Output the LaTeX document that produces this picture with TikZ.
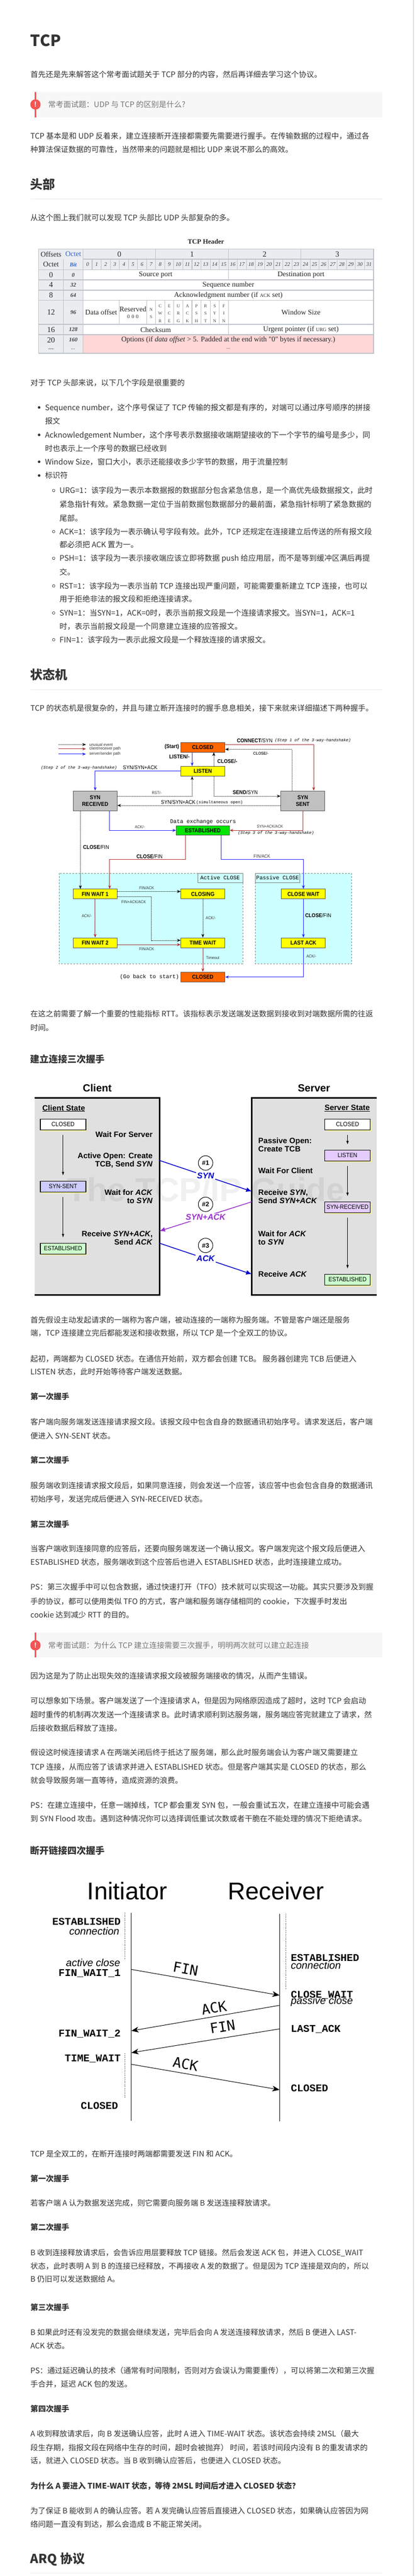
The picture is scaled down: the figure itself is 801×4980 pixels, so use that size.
\documentclass[tikz,border=0pt]{standalone}
\usepackage{fontspec}
\usetikzlibrary{arrows.meta,shadows}
\newfontfamily\cjk{Noto Sans CJK SC}
\newfontfamily\lsans{Liberation Sans}
\newfontfamily\nsans{Liberation Sans}[FakeStretch=0.9]
\newfontfamily\lserif{Liberation Serif}
\newfontfamily\lmono{Liberation Mono}
\newfontfamily\dmono{DejaVu Sans Mono}
\newcommand\setfs[2]{\fontsize{#1}{#2}\selectfont}
\definecolor{fg}{RGB}{51,51,51}
\definecolor{note}{RGB}{119,119,119}
\definecolor{alert}{RGB}{245,84,84}
\definecolor{notebg}{RGB}{247,247,247}
\definecolor{rulec}{RGB}{234,234,234}
\definecolor{wphead}{RGB}{234,236,240}
\definecolor{wpgrid}{RGB}{190,195,201}
\definecolor{wplink}{RGB}{51,102,204}
\definecolor{optbg}{RGB}{255,215,215}
\definecolor{smred}{RGB}{178,48,48}
\definecolor{smblue}{RGB}{34,34,255}
\definecolor{smorange}{RGB}{255,102,0}
\definecolor{smyellow}{RGB}{255,255,0}
\definecolor{smgray}{RGB}{192,192,192}
\definecolor{smgreen}{RGB}{0,230,0}
\definecolor{smcyan}{RGB}{204,255,255}
\definecolor{hspanel}{RGB}{224,224,224}
\definecolor{hsblue}{RGB}{0,0,204}
\definecolor{hspurple}{RGB}{153,51,204}
\definecolor{hsviolet}{RGB}{228,204,255}
\definecolor{hslav}{RGB}{204,204,255}
\definecolor{hsgreen}{RGB}{204,255,204}
\tikzset{
  txt/.style={anchor=base west,inner sep=0,text=fg,font=\cjk\setfs{14.7}{26},yshift=-5.5pt},
  hone/.style={anchor=base west,inner sep=0,text=fg,font=\cjk\bfseries\setfs{30}{36},yshift=-12pt},
  htwo/.style={anchor=base west,inner sep=0,text=fg,font=\cjk\bfseries\setfs{24}{30},yshift=-9.5pt},
  hthree/.style={anchor=base west,inner sep=0,text=fg,font=\cjk\bfseries\setfs{18}{22},yshift=-6.8pt},
  hfour/.style={anchor=base west,inner sep=0,text=fg,font=\cjk\bfseries\setfs{15}{20},yshift=-5.6pt},
  hrule/.style={rulec,line width=1pt},
  dot/.style={circle,fill=fg,inner sep=0,minimum size=5pt},
  ring/.style={circle,draw=fg,line width=0.7pt,inner sep=0,minimum size=5pt},
  warn/.style={circle,fill=alert,inner sep=0,minimum size=20pt,text=white,font=\lsans\bfseries\setfs{14}{14}},
  tb/.style={inner sep=0,text=black!85,font=\lserif\setfs{14}{16}},
  tbit/.style={inner sep=0,text=black!75,font=\lserif\itshape\setfs{10.5}{12}},
  flag/.style={inner sep=0,text=black!75,align=center,font=\lserif\setfs{8.5}{14.3}},
  grid/.style={wpgrid,line width=1.1pt},
  smbox/.style={draw=black!65,line width=1pt,minimum width=85pt,minimum height=19pt,inner sep=0,align=center,font=\nsans\bfseries\setfs{11}{13.4}},
  smlab/.style={inner sep=0,text=black!80,font=\nsans\setfs{8}{9}},
  smlb/.style={inner sep=0,font=\nsans\setfs{10.5}{12}},
  smnote/.style={inner sep=0,font=\lmono\itshape\setfs{7.9}{9}},
  smmono/.style={inner sep=0,font=\lmono\setfs{10.6}{12}},
  redp/.style={smred,line width=1pt,-{Stealth[length=7pt,width=5.5pt]}},
  bluep/.style={smblue,line width=1pt,-{Stealth[length=7pt,width=5.5pt]}},
  dotp/.style={black,line width=0.7pt,dash pattern=on 0.8pt off 1.2pt,-{Stealth[length=7pt,width=5.5pt]}},
  hsbox/.style={draw,line width=1.5pt,minimum width=88pt,minimum height=21pt,inner sep=0,font=\nsans\setfs{12}{14},drop shadow={shadow xshift=2.5pt,shadow yshift=-2.5pt,fill=yellow!45!white,opacity=0.8}},
  hstxt/.style={inner sep=0,font=\lsans\bfseries\setfs{15}{16}},
  hsnum/.style={circle,draw,line width=1pt,fill=white,minimum size=28pt,inner sep=0,font=\lsans\bfseries\setfs{12.5}{14}},
  hslab/.style={fill=white,inner sep=2pt,font=\lsans\bfseries\itshape\setfs{16}{16}},
  hsmsg/.style={line width=1.5pt,-{Latex[length=11pt,width=9pt]}},
  hsdown/.style={line width=1pt,-{Latex[length=7pt,width=5pt]}},
  fwst/.style={inner sep=0,font=\lmono\bfseries\setfs{20}{20}},
  fwit/.style={inner sep=0,font=\lsans\itshape\setfs{20}{20}},
  fwlab/.style={inner sep=0,font=\dmono\setfs{27}{27}},
  fwmsg/.style={line width=1pt,-{Stealth[length=14pt,width=11pt,inset=4pt]}},
  fwdot/.style={line width=1pt,dash pattern=on 1pt off 2.5pt}
}
\begin{document}
\begin{tikzpicture}[x=1pt,y=-1pt]
\useasboundingbox[fill=white] (0,0) rectangle (801,4980);
\draw[gray!25,line width=1.5pt] (798.8,0) -- (798.8,4980);

\node[hone] (h1) at (58.7,78) {TCP};
\node[txt] (t1) at (58.7,144) {首先还是先来解答这个常考面试题关于 TCP 部分的内容，然后再详细去学习这个协议。};
\fill[notebg] (67,178) rectangle (739,227);
\fill[alert] (67,178) rectangle (70,227);
\node[warn] (w1) at (68.5,202) {!};
\node[txt,text=note] (q1) at (93,202) {常考面试题：UDP 与 TCP 的区别是什么?};
\node[txt] (t2) at (58.7,263) {TCP 基本是和 UDP 反着来，建立连接断开连接都需要先需要进行握手。在传输数据的过程中，通过各};
\node[txt] (t3) at (58.7,289) {种算法保证数据的可靠性，当然带来的问题就是相比 UDP 来说不那么的高效。};
\node[htwo] (h2) at (58.7,356) {头部};
\draw[hrule] (58.7,384) -- (739,384);
\node[txt] (t4) at (58.7,421) {从这个图上我们就可以发现 TCP 头部比 UDP 头部复杂的多。};

\node[tb,font=\lserif\bfseries\setfs{13}{15}] (tth) at (398,467) {TCP Header};
\fill[wphead] (74.6,481.7) rectangle (722,521.7);
\fill[wphead] (74.6,521.7) rectangle (160.4,683);
\fill[optbg] (160.4,647) rectangle (722,683);
\draw[grid] (74.6,481.7) rectangle (722,683);
\foreach \y in {521.7,541,561,580.7,627,647} \draw[grid] (74.6,\y) -- (722,\y);
\draw[grid] (160.4,501) -- (722,501);
\draw[grid] (122.6,501) -- (122.6,683);
\draw[grid] (160.4,481.7) -- (160.4,683);
\foreach \k in {1,2,3} \draw[grid] ({160.4+8*\k*17.55},481.7) -- ({160.4+8*\k*17.55},501);
\foreach \k in {1,...,31} \draw[grid] ({160.4+\k*17.55},501) -- ({160.4+\k*17.55},521.7);
\draw[grid] (441.2,521.7) -- (441.2,541);
\draw[grid] (441.2,627) -- (441.2,647);
\foreach \k in {4,7,8,9,10,11,12,13,14,15,16} \draw[grid] ({160.4+\k*17.55},580.7) -- ({160.4+\k*17.55},627);
\node[tb] (toff) at (98.6,491.4) {Offsets};
\node[tb,text=wplink] (toct) at (141.5,491.4) {Octet};
\node[tb] (toct2) at (98.6,511.3) {Octet};
\node[tb,text=wplink,font=\lserif\bfseries\itshape\setfs{11}{12}] (tbit) at (141.5,511.3) {Bit};
\foreach \k in {0,...,3} \node[tb,font=\lserif\setfs{15}{16}] (by\k) at ({160.4+(8*\k+4)*17.55},491.4) {\k};
\foreach \k in {0,...,31} \node[tbit] (bn\k) at ({160.4+(\k+0.5)*17.55},511.3) {\k};
\foreach \o/\b/\y [count=\r] in {0/0/531.4,4/32/551,8/64/571,12/96/604,16/128/637.3,20/160/657.3} {
  \node[tb,font=\lserif\setfs{15}{16}] (ro\r) at (98.6,\y) {\o};
  \node[tbit,font=\lserif\bfseries\itshape\setfs{11}{12}] (rb\r) at (141.5,\y) {\b};
}
\node[tb] (rodots) at (98.6,675) {...};
\node[tbit] (rbdots) at (141.5,675) {...};
\node[tb] (fsrc) at (300.8,531.4) {Source port};
\node[tb] (fdst) at (581.6,531.4) {Destination port};
\node[tb] (fseq) at (441.2,551) {Sequence number};
\node[tb] (fack) at (441.2,571) {Acknowledgment number (if {\setfs{9.5}{10}ACK} set)};
\node[tb] (fdo) at (195.5,604) {Data offset};
\node[tb] (frs) at (256.8,597.7) {Reserved};
\node[tb,font=\lserif\setfs{10}{12}] (frs0) at (256.8,612.7) {0\,\,0\,\,0};
\node[flag] (fns) at (292,605.5) {N\\S};
\foreach \a/\b/\c [count=\k from 8] in {C/W/R,E/C/E,U/R/G,A/C/K,P/S/H,R/S/T,S/Y/N,F/I/N}
  \node[flag] (fl\k) at ({160.4+(\k+0.5)*17.55},606) {\a\\\b\\\c};
\node[tb] (fwin) at (581.6,604) {Window Size};
\node[tb] (fchk) at (300.8,637.3) {Checksum};
\node[tb] (furg) at (581.6,637.3) {Urgent pointer (if {\setfs{9.5}{10}URG} set)};
\node[tb] (fopt) at (441.2,657.3) {Options (if \textit{data offset} > 5. Padded at the end with "0" bytes if necessary.)};
\node[tb,font=\lserif\setfs{9}{10}] (foptd) at (441.2,674) {...};

\node[txt] (t5) at (58.7,740) {对于 TCP 头部来说，以下几个字段是很重要的};
\node[dot] (d1) at (75.6,787.7) {};
\node[txt] (b1) at (86.8,787.7) {Sequence number，这个序号保证了 TCP 传输的报文都是有序的，对端可以通过序号顺序的拼接};
\node[txt] (b1b) at (86.8,814) {报文};
\node[dot] (d2) at (75.6,840.7) {};
\node[txt] (b2) at (86.8,840.7) {Acknowledgement Number，这个序号表示数据接收端期望接收的下一个字节的编号是多少，同};
\node[txt] (b2b) at (86.8,866.7) {时也表示上一个序号的数据已经收到};
\node[dot] (d3) at (75.6,892.7) {};
\node[txt] (b3) at (86.8,892.7) {Window Size，窗口大小，表示还能接收多少字节的数据，用于流量控制};
\node[dot] (d4) at (75.6,919.3) {};
\node[txt] (b4) at (86.8,919.3) {标识符};
\node[ring] (r1) at (103.7,948.3) {};
\node[txt] (s1) at (115,948.3) {URG=1：该字段为一表示本数据报的数据部分包含紧急信息，是一个高优先级数据报文，此时};
\node[txt] (s1b) at (115,975) {紧急指针有效。紧急数据一定位于当前数据包数据部分的最前面，紧急指针标明了紧急数据的};
\node[txt] (s1c) at (115,1001.7) {尾部。};
\node[ring] (r2) at (103.7,1027.7) {};
\node[txt] (s2) at (115,1027.7) {ACK=1：该字段为一表示确认号字段有效。此外，TCP 还规定在连接建立后传送的所有报文段};
\node[txt] (s2b) at (115,1053.3) {都必须把 ACK 置为一。};
\node[ring] (r3) at (103.7,1079.3) {};
\node[txt] (s3) at (115,1079.3) {PSH=1：该字段为一表示接收端应该立即将数据 push 给应用层，而不是等到缓冲区满后再提};
\node[txt] (s3b) at (115,1106) {交。};
\node[ring] (r4) at (103.7,1132.7) {};
\node[txt] (s4) at (115,1132.7) {RST=1：该字段为一表示当前 TCP 连接出现严重问题，可能需要重新建立 TCP 连接，也可以};
\node[txt] (s4b) at (115,1158.3) {用于拒绝非法的报文段和拒绝连接请求。};
\node[ring] (r5) at (103.7,1185) {};
\node[txt] (s5) at (115,1185) {SYN=1：当SYN=1，ACK=0时，表示当前报文段是一个连接请求报文。当SYN=1，ACK=1};
\node[txt] (s5b) at (115,1210.7) {时，表示当前报文段是一个同意建立连接的应答报文。};
\node[ring] (r6) at (103.7,1236.7) {};
\node[txt] (s6) at (115,1236.7) {FIN=1：该字段为一表示此报文段是一个释放连接的请求报文。};

\node[htwo] (h3) at (58.7,1304.3) {状态机};
\draw[hrule] (58.7,1333) -- (739,1333);
\node[txt] (t6) at (58.7,1369.4) {TCP 的状态机是很复杂的，并且与建立断开连接时的握手息息相关，接下来就来详细描述下两种握手。};

\draw[dashed,gray,fill=smcyan] (113.9,1687.8) rectangle (468.8,1863.3);
\draw[dashed,gray,fill=smcyan] (493.4,1687.8) rectangle (679.3,1863.3);
\node[draw=gray,fill=smcyan,minimum width=86.8pt,minimum height=18.4pt,inner sep=0,font=\lmono\setfs{10.6}{12}] (actc) at (425.4,1697) {Active CLOSE};
\node[draw=gray,fill=smcyan,minimum width=86.3pt,minimum height=18.4pt,inner sep=0,font=\lmono\setfs{10.6}{12}] (pasc) at (536.5,1697) {Passive CLOSE};
\coordinate (lg1) at (113,1439.4);
\coordinate (lg2) at (166,1439.4);
\coordinate (lg3) at (113,1447.8);
\coordinate (lg4) at (166,1447.8);
\coordinate (lg5) at (113,1457.8);
\coordinate (lg6) at (166,1457.8);
\draw[dotp] (lg1) -- (lg2);
\draw[redp] (lg3) -- (lg4);
\draw[bluep] (lg5) -- (lg6);
\node[smlab,anchor=west] (lgt1) at (172.6,1439.4) {unusual event};
\node[smlab,anchor=west] (lgt2) at (172.6,1447.8) {client/receiver path};
\node[smlab,anchor=west] (lgt3) at (172.6,1457.8) {server/sender path};
\node[smbox,fill=smorange,minimum width=85.3pt,minimum height=18.8pt] (closedA) at (392,1444.6) {CLOSED};
\node[smbox,fill=smyellow,minimum width=85.3pt,minimum height=18.8pt] (listen) at (392,1490.9) {LISTEN};
\node[smbox,fill=smgray,minimum height=38.2pt] (synrcvd) at (183.9,1548.1) {SYN\\RECEIVED};
\node[smbox,fill=smgray,minimum height=38.2pt] (synsent) at (585,1548.1) {SYN\\SENT};
\node[smbox,fill=smgreen,minimum width=102.6pt,minimum height=18pt] (estab) at (392,1605.3) {ESTABLISHED};
\node[smbox,fill=smyellow] (finw1) at (183.9,1728.4) {FIN WAIT 1};
\node[smbox,fill=smyellow] (closing) at (392,1728.4) {CLOSING};
\node[smbox,fill=smyellow] (closewait) at (586.3,1728.4) {CLOSE WAIT};
\node[smbox,fill=smyellow] (finw2) at (183.9,1822.5) {FIN WAIT 2};
\node[smbox,fill=smyellow] (timewait) at (392,1822.5) {TIME WAIT};
\node[smbox,fill=smyellow] (lastack) at (586.3,1822.5) {LAST ACK};
\node[smbox,fill=smorange,minimum width=85.3pt] (closedB) at (392,1888.8) {CLOSED};
\draw[redp] ([yshift=5.6pt]closedA.east) -| ([xshift=21.2pt]synsent.north);
\draw[dotp] ([xshift=-20.7pt]synsent.north) |- ([yshift=-4pt]closedA.east);
\draw[bluep] ([xshift=-20.7pt]closedA.south) -- ([xshift=-20.7pt]listen.north);
\draw[dotp] ([xshift=21.2pt]listen.north) -- ([xshift=21.2pt]closedA.south);
\draw[bluep] (listen.west) -| (synrcvd.north);
\draw[dotp] ([yshift=9pt]synrcvd.east) -| ([xshift=-20.7pt]listen.south);
\draw[dotp] ([xshift=21.2pt]listen.south) |- ([yshift=9pt]synsent.west);
\draw[dotp] ([yshift=-9pt]synsent.west) -- ([yshift=-9pt]synrcvd.east);
\draw[bluep] ([xshift=27.5pt]synrcvd.south) |- (estab.west);
\draw[redp] (synsent.south) |- (estab.east);
\draw[dotp] ([xshift=-28.6pt]synrcvd.south) -- ([xshift=-28.6pt]finw1.north);
\draw[redp] ([xshift=-34pt]estab.south) -- ++(0,46.7) -| ([xshift=28pt]finw1.north);
\draw[bluep] ([xshift=35pt]estab.south) -- ++(0,46.7) -| (closewait.north);
\draw[dotp] ([yshift=5pt]finw1.east) -- ([yshift=5pt]closing.west);
\draw[dotp] ([yshift=-5pt]finw1.east) -- ++(65.8,0) |- ([yshift=4.6pt]timewait.west);
\draw[redp] (finw1.south) -- (finw2.north);
\draw[dotp] (closing.south) -- (timewait.north);
\draw[bluep] (closewait.south) -- (lastack.north);
\draw[redp] ([yshift=-3.7pt]finw2.east) -- ([yshift=-3.7pt]timewait.west);
\draw[redp] (timewait.south) -- (closedB.north);
\draw[bluep] (lastack.south) |- (closedB.east);
\node[smlb,anchor=east,font=\nsans\bfseries\setfs{10.5}{12}] (lstart) at (346.3,1444) {(Start)};
\node[smlb,anchor=west] (lconn) at (457.6,1431.4) {\textbf{CONNECT}/SYN};
\node[smnote,anchor=west] (lstep1) at (531,1431.4) {(Step 1 of the 3-way-handshake)};
\node[smlab] (lclose1) at (504,1456.6) {\textbf{CLOSE/-}};
\node[smlb,anchor=east] (llisten) at (366.7,1462.8) {\textbf{LISTEN/-}};
\node[smlb,anchor=west] (lclose2) at (420,1471.6) {\textbf{CLOSE/-}};
\node[smnote,anchor=west] (lstep2) at (79,1484.2) {(Step 2 of the 3-way-handshake)};
\node[smlb,anchor=west] (lsynack) at (237.5,1484.2) {SYN/SYN+ACK};
\node[smlab] (lrst) at (302.9,1532.4) {RST/-};
\node[smlb] (lsend) at (474,1531.6) {\textbf{SEND}/SYN};
\node[smlb,anchor=west] (lsim) at (311,1551.2) {SYN/SYN+ACK};
\node[inner sep=0,font=\lmono\setfs{7.9}{9},anchor=west] (lsim2) at (379,1551.2) {(simultaneous open)};
\node[smmono] (ldata) at (392.4,1588.3) {Data exchange occurs};
\node[smlab] (lack1) at (270.2,1598.2) {ACK/-};
\node[smlab] (lsa) at (521.7,1597.8) {SYN+ACK/ACK};
\node[smnote,anchor=west] (lstep3) at (459.7,1610.9) {(Step 3 of the 3-way-handshake)};
\node[smlb] (lcf1) at (185.7,1637.6) {\textbf{CLOSE}/FIN};
\node[smlb] (lcf2) at (289,1655.6) {\textbf{CLOSE}/FIN};
\node[smlab,font=\nsans\setfs{9}{10}] (lfa1) at (506.2,1654.9) {FIN/ACK};
\node[smlab] (lfa2) at (283.4,1716.5) {FIN/ACK};
\node[smlab] (lfaa) at (258.4,1743.7) {FIN+ACK/ACK};
\node[smlab] (lack2) at (167.7,1770.8) {ACK/-};
\node[smlab] (lack3) at (407.3,1774.7) {ACK/-};
\node[smlb] (lcf3) at (615,1770) {\textbf{CLOSE}/FIN};
\node[smlab] (lfa3) at (283.4,1835) {FIN/ACK};
\node[smlab] (ltime) at (411,1851.7) {Timeout};
\node[smlab] (lack4) at (601.6,1848.3) {ACK/-};
\node[smmono,anchor=east] (lgoback) at (346.3,1889) {(Go back to start)};

\node[txt] (t7) at (58.7,1960) {在这之前需要了解一个重要的性能指标 RTT。该指标表示发送端发送数据到接收到对端数据所需的往返};
\node[txt] (t7b) at (58.7,1986.7) {时间。};
\node[hthree] (h4) at (58.7,2047.7) {建立连接三次握手};

\node[hstxt,font=\lsans\bfseries\setfs{20}{22}] (cli) at (188,2103.3) {Client};
\node[hstxt,font=\lsans\bfseries\setfs{20}{22}] (srv) at (606.7,2103.3) {Server};
\fill[hspanel] (66.9,2122.7) rectangle (308,2503.3);
\fill[hspanel] (486.7,2122.7) rectangle (727.8,2503.3);
\draw[line width=3pt] (66.9,2122.7) -- (308,2122.7) -- (308,2503.3) -- (66.9,2503.3);
\draw[line width=3pt] (727.8,2122.7) -- (486.7,2122.7) -- (486.7,2503.3) -- (727.8,2503.3);
\node[inner sep=0,text=black,opacity=0.06,font=\lsans\bfseries\setfs{64}{64}] (wm) at (398,2300) {The TCP/IP Guide};
\node[hstxt,anchor=west] (cst) at (81.7,2142.7) {\underline{Client State}};
\node[hstxt,anchor=east] (sst) at (715,2142.7) {\underline{Server State}};
\node[hsbox,fill=white] (cclosed) at (121.8,2173.8) {CLOSED};
\node[hsbox,fill=hslav] (csynsent) at (121.8,2293.8) {SYN-SENT};
\node[hsbox,fill=hsgreen] (cestab) at (121.8,2413.8) {ESTABLISHED};
\node[hsbox,fill=white] (sclosed) at (671.6,2173.8) {CLOSED};
\node[hsbox,fill=hsviolet] (slisten) at (671.6,2233.8) {LISTEN};
\node[hsbox,fill=hsviolet] (ssynrcvd) at (671.6,2333.8) {SYN-RECEIVED};
\node[hsbox,fill=hsgreen] (sestab) at (671.6,2473.8) {ESTABLISHED};
\draw[hsdown] ([yshift=-9pt]cclosed.south) -- ([yshift=10pt]csynsent.north);
\draw[hsdown] ([yshift=-9pt]csynsent.south) -- ([yshift=10pt]cestab.north);
\draw[hsdown] ([yshift=-9pt]sclosed.south) -- ([yshift=10pt]slisten.north);
\draw[hsdown] ([yshift=-9pt]slisten.south) -- ([yshift=10pt]ssynrcvd.north);
\draw[hsdown] ([yshift=-9pt]ssynrcvd.south) -- ([yshift=10pt]sestab.north);
\node[hstxt,anchor=east,align=right] (cw1) at (295.2,2193.3) {Wait For Server};
\node[hstxt,anchor=east,align=right] (cw2) at (295.2,2243) {Active Open: Create\\TCB, Send \textit{SYN}};
\node[hstxt,anchor=east,align=right] (cw3) at (295.2,2313) {Wait for \textit{ACK}\\to \textit{SYN}};
\node[hstxt,anchor=east,align=right] (cw4) at (295.2,2392.8) {Receive \textit{SYN+ACK},\\Send \textit{ACK}};
\node[hstxt,anchor=west,align=left] (sw1) at (499,2213) {Passive Open:\\Create TCB};
\node[hstxt,anchor=west] (sw2) at (499,2262.7) {Wait For Client};
\node[hstxt,anchor=west,align=left] (sw3) at (499,2313) {Receive \textit{SYN},\\Send \textit{SYN+ACK}};
\node[hstxt,anchor=west,align=left] (sw4) at (499,2392.8) {Wait for \textit{ACK}\\to \textit{SYN}};
\node[hstxt,anchor=west] (sw5) at (499,2462.7) {Receive \textit{ACK}};
\coordinate (pa1) at (308,2243.3);
\coordinate (pb1) at (486.7,2303.3);
\coordinate (pa2) at (486.7,2323.3);
\coordinate (pb2) at (308,2380);
\coordinate (pa3) at (308,2403.3);
\coordinate (pb3) at (486.7,2463.3);
\draw[hsmsg,hsblue] (pa1) -- (pb1);
\draw[hsmsg,hspurple] (pa2) -- (pb2);
\draw[hsmsg,hsblue] (pa3) -- (pb3);
\node[hsnum] (n1) at (397.3,2248.3) {\#1};
\node[hsnum] (n2) at (397.3,2328.3) {\#2};
\node[hsnum] (n3) at (397.3,2407.7) {\#3};
\node[hslab,text=hsblue] (m1) at (397.3,2272.7) {SYN};
\node[hslab,text=hspurple] (m2) at (397.3,2353.3) {SYN+ACK};
\node[hslab,text=hsblue] (m3) at (397.3,2433.3) {ACK};

\node[txt] (t8) at (58.7,2551.7) {首先假设主动发起请求的一端称为客户端，被动连接的一端称为服务端。不管是客户端还是服务};
\node[txt] (t8b) at (58.7,2577.3) {端，TCP 连接建立完后都能发送和接收数据，所以 TCP 是一个全双工的协议。};
\node[txt] (t9) at (58.7,2626.7) {起初，两端都为 CLOSED 状态。在通信开始前，双方都会创建 TCB。 服务器创建完 TCB 后便进入};
\node[txt] (t9b) at (58.7,2652.3) {LISTEN 状态，此时开始等待客户端发送数据。};
\node[hfour] (h5) at (58.7,2700) {第一次握手};
\node[txt] (t10) at (58.7,2749) {客户端向服务端发送连接请求报文段。该报文段中包含自身的数据通讯初始序号。请求发送后，客户端};
\node[txt] (t10b) at (58.7,2775.7) {便进入 SYN-SENT 状态。};
\node[hfour] (h6) at (58.7,2823.3) {第二次握手};
\node[txt] (t11) at (58.7,2871.7) {服务端收到连接请求报文段后，如果同意连接，则会发送一个应答，该应答中也会包含自身的数据通讯};
\node[txt] (t11b) at (58.7,2898.3) {初始序号，发送完成后便进入 SYN-RECEIVED 状态。};
\node[hfour] (h7) at (58.7,2946.7) {第三次握手};
\node[txt] (t12) at (58.7,2994.3) {当客户端收到连接同意的应答后，还要向服务端发送一个确认报文。客户端发完这个报文段后便进入};
\node[txt] (t12b) at (58.7,3020) {ESTABLISHED 状态，服务端收到这个应答后也进入 ESTABLISHED 状态，此时连接建立成功。};
\node[txt] (t13) at (58.7,3068.3) {PS：第三次握手中可以包含数据，通过快速打开（TFO）技术就可以实现这一功能。其实只要涉及到握};
\node[txt] (t13b) at (58.7,3095.7) {手的协议，都可以使用类似 TFO 的方式，客户端和服务端存储相同的 cookie，下次握手时发出};
\node[txt] (t13c) at (58.7,3121.7) {cookie 达到减少 RTT 的目的。};
\fill[notebg] (67,3156) rectangle (739,3204);
\fill[alert] (67,3156) rectangle (70,3204);
\node[warn] (w2) at (68.5,3180.7) {!};
\node[txt,text=note] (q2) at (93,3180.7) {常考面试题：为什么 TCP 建立连接需要三次握手，明明两次就可以建立起连接};
\node[txt] (t14) at (58.7,3240) {因为这是为了防止出现失效的连接请求报文段被服务端接收的情况，从而产生错误。};
\node[txt] (t15) at (58.7,3288.3) {可以想象如下场景。客户端发送了一个连接请求 A，但是因为网络原因造成了超时，这时 TCP 会启动};
\node[txt] (t15b) at (58.7,3315) {超时重传的机制再次发送一个连接请求 B。此时请求顺利到达服务端，服务端应答完就建立了请求，然};
\node[txt] (t15c) at (58.7,3340.7) {后接收数据后释放了连接。};
\node[txt] (t16) at (58.7,3388.3) {假设这时候连接请求 A 在两端关闭后终于抵达了服务端，那么此时服务端会认为客户端又需要建立};
\node[txt] (t16b) at (58.7,3415.7) {TCP 连接，从而应答了该请求并进入 ESTABLISHED 状态。但是客户端其实是 CLOSED 的状态，那么};
\node[txt] (t16c) at (58.7,3441.7) {就会导致服务端一直等待，造成资源的浪费。};
\node[txt] (t17) at (58.7,3490) {PS：在建立连接中，任意一端掉线，TCP 都会重发 SYN 包，一般会重试五次，在建立连接中可能会遇};
\node[txt] (t17b) at (58.7,3515.7) {到 SYN Flood 攻击。遇到这种情况你可以选择调低重试次数或者干脆在不能处理的情况下拒绝请求。};
\node[hthree] (h8) at (58.7,3577.7) {断开链接四次握手};

\node[inner sep=0,anchor=base,font=\lsans\setfs{47}{47}] (ini) at (246,3672) {Initiator};
\node[inner sep=0,anchor=base,font=\lsans\setfs{47}{47}] (rcv) at (533.2,3672) {Receiver};
\coordinate (ia) at (253.8,3698.3);
\coordinate (ib) at (253.8,4100);
\coordinate (ra) at (540.3,3700);
\coordinate (rb) at (540.3,4100.7);
\draw[line width=1pt] (ia) -- (ib);
\draw[line width=1pt] (ra) -- (rb);
\coordinate (ld1) at (241.6,3698.3);
\coordinate (ld2) at (241.6,3788.3);
\coordinate (ld3) at (241.6,3970);
\coordinate (ld4) at (241.6,4055);
\coordinate (rd1) at (552.6,3700);
\coordinate (rd2) at (552.6,3845);
\draw[fwdot] (ld1) -- (ld2);
\draw[fwdot] (ld3) -- (ld4);
\draw[fwdot] (rd1) -- (rd2);
\coordinate (f1a) at (253.8,3807.3);
\coordinate (f1b) at (540.3,3857.3);
\coordinate (k1a) at (540.3,3876.7);
\coordinate (k1b) at (253.8,3926);
\coordinate (f2a) at (540.3,3922.3);
\coordinate (f2b) at (253.8,3968.3);
\coordinate (k2a) at (253.8,3990.7);
\coordinate (k2b) at (540.3,4040);
\draw[fwmsg] (f1a) -- (f1b);
\draw[fwmsg] (k1a) -- (k1b);
\draw[fwmsg] (f2a) -- (f2b);
\draw[fwmsg] (k2a) -- (k2b);
\node[fwlab,rotate=-10] (lf1) at (358.5,3806) {FIN};
\node[fwlab,rotate=10] (lk1) at (413.7,3881.7) {ACK};
\node[fwlab,rotate=9] (lf2) at (430,3918) {FIN};
\node[fwlab,rotate=-10] (lk2) at (358.5,3990) {ACK};
\node[fwst,anchor=base east] (le1) at (233.4,3721.6) {ESTABLISHED};
\node[fwit,anchor=base east] (le2) at (230.8,3740) {connection};
\node[fwit,anchor=base east] (lac) at (232.4,3801.5) {active close};
\node[fwst,anchor=base east] (lw1) at (233.4,3820) {FIN\_WAIT\_1};
\node[fwst,anchor=base east] (lw2) at (233.4,3937.7) {FIN\_WAIT\_2};
\node[fwst,anchor=base east] (ltw) at (233.4,3985) {TIME\_WAIT};
\node[fwst,anchor=base east] (lcl) at (228.3,4077.5) {CLOSED};
\node[fwst,anchor=base west] (re1) at (561.8,3791) {ESTABLISHED};
\node[fwit,anchor=base west] (re2) at (561.8,3806.5) {connection};
\node[fwst,anchor=base west] (rcw) at (561.8,3862.5) {CLOSE\_WAIT};
\node[fwit,anchor=base west] (rpc) at (561.8,3874) {passive close};
\node[fwst,anchor=base west] (rla) at (561.8,3928.2) {LAST\_ACK};
\node[fwst,anchor=base west] (rcl) at (561.8,4043) {CLOSED};

\node[txt] (t18) at (58.7,4164.3) {TCP 是全双工的，在断开连接时两端都需要发送 FIN 和 ACK。};
\node[hfour] (h9) at (58.7,4211.7) {第一次握手};
\node[txt] (t19) at (58.7,4259) {若客户端 A 认为数据发送完成，则它需要向服务端 B 发送连接释放请求。};
\node[hfour] (h10) at (58.7,4306) {第二次握手};
\node[txt] (t20) at (58.7,4355) {B 收到连接释放请求后，会告诉应用层要释放 TCP 链接。然后会发送 ACK 包，并进入 CLOSE\_WAIT};
\node[txt] (t20b) at (58.7,4380.7) {状态，此时表明 A 到 B 的连接已经释放，不再接收 A 发的数据了。但是因为 TCP 连接是双向的，所以};
\node[txt] (t20c) at (58.7,4406) {B 仍旧可以发送数据给 A。};
\node[hfour] (h11) at (58.7,4461) {第三次握手};
\node[txt] (t21) at (58.7,4509.3) {B 如果此时还有没发完的数据会继续发送，完毕后会向 A 发送连接释放请求，然后 B 便进入 LAST-};
\node[txt] (t21b) at (58.7,4535) {ACK 状态。};
\node[txt] (t22) at (58.7,4583.3) {PS：通过延迟确认的技术（通常有时间限制，否则对方会误认为需要重传），可以将第二次和第三次握};
\node[txt] (t22b) at (58.7,4609) {手合并，延迟 ACK 包的发送。};
\node[hfour] (h12) at (58.7,4657.3) {第四次握手};
\node[txt] (t23) at (58.7,4705.3) {A 收到释放请求后，向 B 发送确认应答，此时 A 进入 TIME-WAIT 状态。该状态会持续 2MSL（最大};
\node[txt] (t23b) at (58.7,4731.7) {段生存期，指报文段在网络中生存的时间，超时会被抛弃） 时间，若该时间段内没有 B 的重发请求的};
\node[txt] (t23c) at (58.7,4757.3) {话，就进入 CLOSED 状态。当 B 收到确认应答后，也便进入 CLOSED 状态。};
\node[hfour] (h13) at (58.7,4806) {为什么 A 要进入 TIME-WAIT 状态，等待 2MSL 时间后才进入 CLOSED 状态？};
\node[txt] (t24) at (58.7,4854) {为了保证 B 能收到 A 的确认应答。若 A 发完确认应答后直接进入 CLOSED 状态，如果确认应答因为网};
\node[txt] (t24b) at (58.7,4880) {络问题一直没有到达，那么会造成 B 不能正常关闭。};
\node[htwo] (h14) at (58.7,4946) {ARQ 协议};
\draw[hrule] (58.7,4974.3) -- (739,4974.3);
\end{tikzpicture}
\end{document}
